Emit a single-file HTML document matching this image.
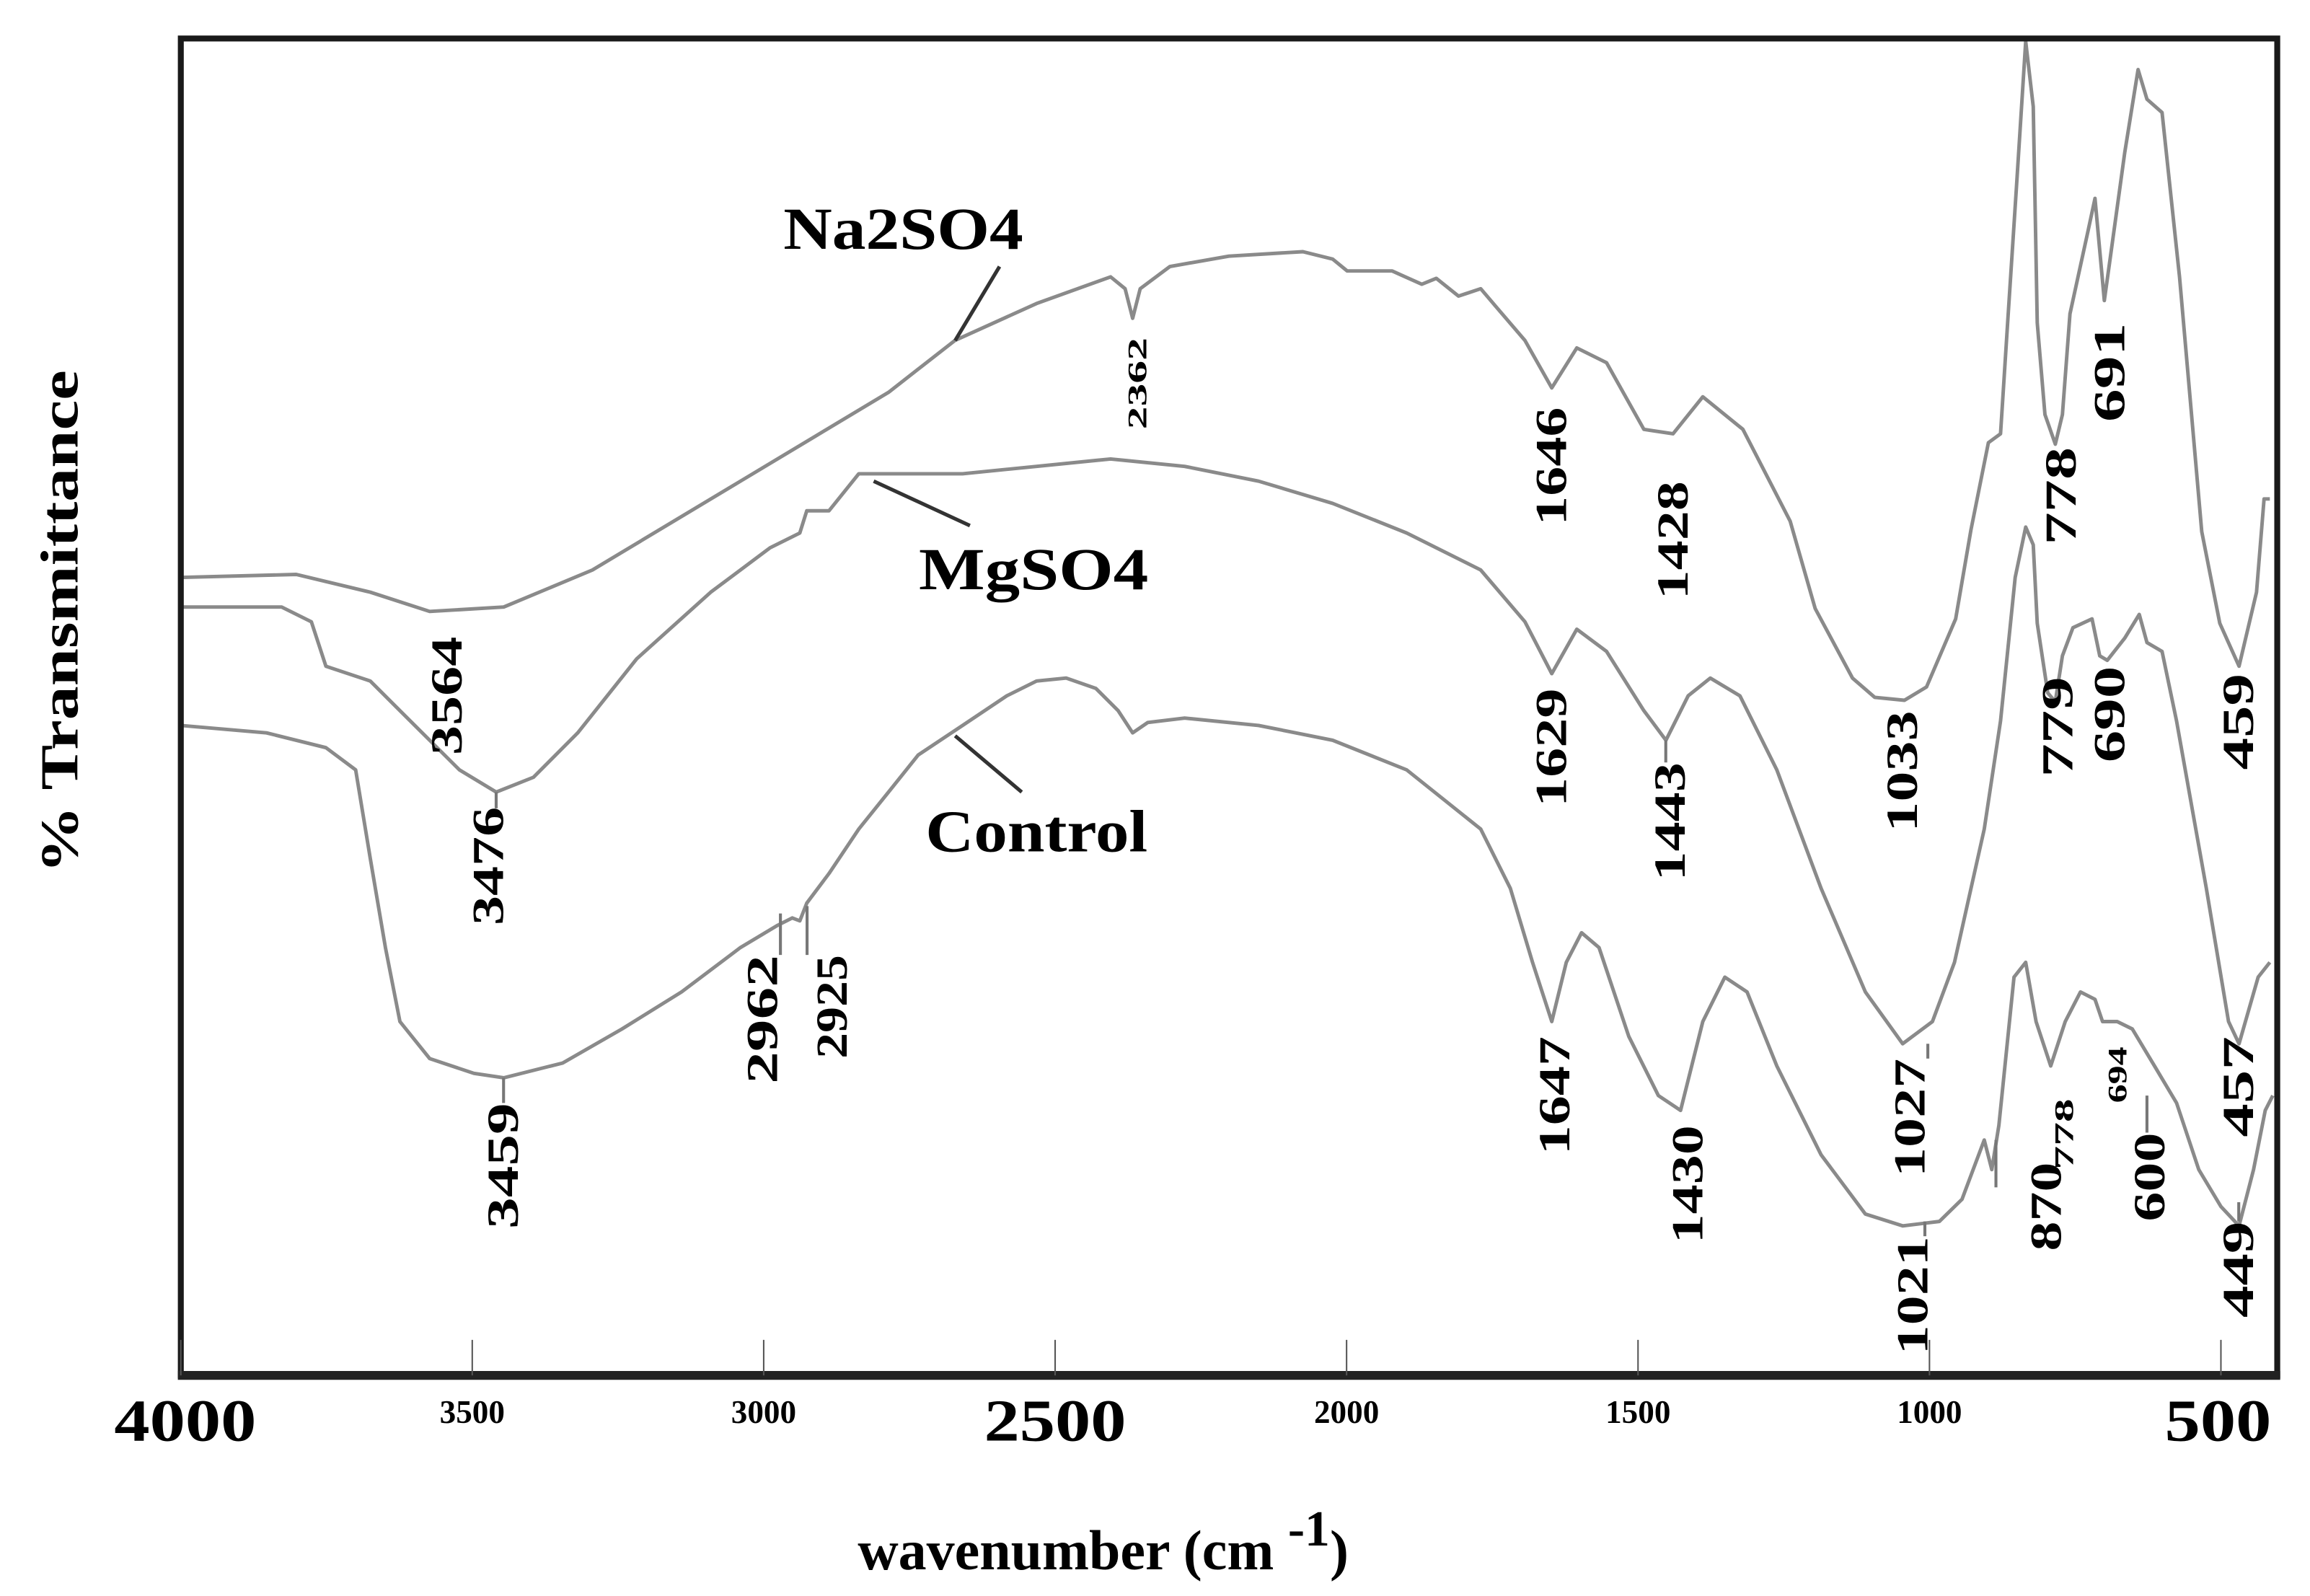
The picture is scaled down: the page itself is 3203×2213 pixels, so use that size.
<!DOCTYPE html>
<html><head><meta charset="utf-8"><style>
html,body{margin:0;padding:0;background:#fff;}
svg{display:block;}
text{font-family:"Liberation Serif",serif;font-weight:bold;fill:#000;}
</style></head><body>
<svg id="chart" xmlns="http://www.w3.org/2000/svg" width="3203" height="2213" viewBox="0 0 1560 1078">
<rect x="0" y="0" width="1560" height="1078" fill="#fff"/>
<g id="curves"></g>
<g id="ann"></g>
<rect x="122" y="26" width="1416" height="903" fill="none" stroke="#1a1a1a" stroke-width="4"/>
<line x1="120" y1="929" x2="1540" y2="929" stroke="#222" stroke-width="6"/>
<g id="ticks"></g>
<text x="40" y="420" font-size="36" text-anchor="middle" dominant-baseline="central" transform="rotate(-90 40 420)" textLength="340" lengthAdjust="spacingAndGlyphs">% Transmittance</text>
<text x="745" y="1060" font-size="38" text-anchor="middle">wavenumber (cm <tspan dy="-16" font-size="34">-1</tspan><tspan dy="16">)</tspan></text>
<text x="610" y="168" font-size="40" text-anchor="middle" textLength="162" lengthAdjust="spacingAndGlyphs">Na2SO4</text>
<text x="698" y="398" font-size="40" text-anchor="middle" textLength="155" lengthAdjust="spacingAndGlyphs">MgSO4</text>
<text x="700" y="575" font-size="40" text-anchor="middle" textLength="150" lengthAdjust="spacingAndGlyphs">Control</text>
<line x1="675" y1="180" x2="645" y2="230" stroke="#333" stroke-width="2.5"/>
<line x1="590" y1="325" x2="655" y2="355" stroke="#333" stroke-width="2.5"/>
<line x1="645" y1="497" x2="690" y2="535" stroke="#333" stroke-width="2.5"/>
</svg>
<script>
// Na2SO4 series
const naW=[4000,3802,3675,3573,3446,3294,3167,3040,2913,2786,2672,2532,2405,2380,2367,2354,2303,2202,2075,2024,1999,1922,1871,1846,1808,1770,1744,1694,1648,1605,1554,1490,1440,1389,1320,1239,1196,1132,1094,1043,1005,955,929,899,878,866,850,835,822,815,802,784,772,759,728,716,700,690,665,642,627,601,571,533,502,469,439,426,416];
const naT=[545,547,535,522,525,550,580,610,640,670,705,730,748,740,720,740,755,762,765,760,752,752,743,747,735,740,728,705,673,700,690,645,642,667,645,583,524,477,464,462,471,517,577,636,642,717,814,907,863,717,655,635,655,723,779,801,732,760,832,888,868,859,748,576,514,485,535,598,598];
// MgSO4 series
const mgW=[4000,3827,3776,3751,3713,3675,3624,3573,3522,3459,3395,3319,3218,3091,2989,2938,2926,2888,2837,2786,2659,2532,2405,2278,2151,2024,1897,1770,1694,1648,1605,1554,1490,1452,1414,1376,1325,1262,1186,1110,1046,995,957,906,878,853,835,822,815,797,784,772,754,721,708,695,665,640,627,601,576,525,487,469,436,416];
const mgT=[525,525,515,485,480,475,455,435,415,400,410,440,490,535,565,575,590,590,615,615,615,620,625,620,610,595,575,550,515,480,510,495,455,435,465,477,465,415,335,265,230,245,285,375,448,545,579,567,514,467,461,492,511,517,492,489,504,520,501,495,448,335,245,230,275,285];
// Control series
const ctW=[4000,3853,3751,3700,3675,3649,3624,3573,3497,3446,3345,3243,3141,3040,2976,2951,2938,2926,2888,2837,2786,2735,2659,2583,2532,2481,2430,2392,2367,2341,2278,2151,2024,1897,1770,1719,1681,1648,1623,1597,1567,1516,1465,1427,1389,1351,1313,1262,1186,1110,1046,983,944,906,893,881,855,835,817,792,767,741,716,703,678,652,614,576,538,500,469,444,424,411];
const ctT=[445,440,430,415,355,295,245,220,210,207,217,240,265,295,310,315,313,325,345,375,400,425,445,465,475,477,470,455,440,447,450,445,435,415,375,335,285,245,285,305,295,235,195,185,245,275,265,215,155,115,107,110,125,165,145,175,275,285,245,215,245,265,260,245,245,240,215,190,145,120,107,145,185,195];
// Axis ticks
const tickVals=[4000,3500,3000,2500,2000,1500,1000,500];
const tickLabels=["4000","3500","3000","2500","2000","1500","1000","500"];
const tickBig=[true,false,false,true,false,false,false,true];

const NS="http://www.w3.org/2000/svg";
function xs(w){return 122+(4000-w)/2.54;}
function ys(t){return 935-t;}
function mk(tag,attrs,parent){const e=document.createElementNS(NS,tag);for(const k in attrs)e.setAttribute(k,attrs[k]);parent.appendChild(e);return e;}

const cg=document.getElementById('curves');
function drawSeries(W,T,name){
  let d='';
  for(let i=0;i<W.length;i++){d+=(i?'L':'M')+xs(W[i]).toFixed(1)+','+ys(T[i]).toFixed(1);}
  const p=mk('path',{d:d,fill:'none',stroke:'#8a8a8a','stroke-width':2.4,'stroke-linejoin':'round'},cg);
  
  
}
drawSeries(naW,naT,'na2so4-spectrum');
drawSeries(mgW,mgT,'mgso4-spectrum');
drawSeries(ctW,ctT,'control-spectrum');

const tg=document.getElementById('ticks');
tickVals.forEach((v,i)=>{
  const x=xs(v);
  const l=mk('line',{x1:x,y1:905,x2:x,y2:929,stroke:'#555','stroke-width':1},tg);
  
  
  const big=tickBig[i];
  const t=mk('text',{x:Math.min(Math.max(x,125),1498),y:big?973:961,'font-size':big?40:22,'text-anchor':'middle',fill:big?'#000':'#555'},tg);
  if(big){t.setAttribute('textLength',tickLabels[i].length*24);t.setAttribute('lengthAdjust','spacingAndGlyphs');}
  t.textContent=tickLabels[i];
  
  
});

// peak annotations: [text, centerX, top, bottom, fontSize]
const ag=document.getElementById('ann');
const peaks=[["3564",302,430,510,30],["3476",330,545,625,30],["3459",340,745,830,30],["2962",515,645,732,30],["2925",562,645,715,30],["2362",768,228,290,18],["1646",1048,275,355,30],["1428",1130,325,405,30],["1629",1048,465,545,30],["1443",1128,515,595,30],["1647",1050,700,780,30],["1430",1140,760,840,30],["1033",1285,480,562,30],["1027",1290,715,795,30],["1021",1292,835,915,30],["778",1392,302,368,30],["691",1425,218,285,30],["779",1390,457,525,30],["690",1425,450,515,30],["459",1512,455,520,30],["870",1382,785,845,30],["778",1394,742,790,18],["694",1430,707,745,18],["600",1452,765,825,30],["457",1512,700,768,30],["449",1512,825,890,30]];
peaks.forEach(p=>{
  const cy=(p[2]+p[3])/2;
  const t=mk('text',{x:p[1],y:cy,'font-size':p[4],'text-anchor':'middle','dominant-baseline':'central',transform:'rotate(-90 '+p[1]+' '+cy+')',textLength:p[3]-p[2],lengthAdjust:'spacingAndGlyphs'},ag);
  t.textContent=p[0];
  
  
});
const leaders=[[335,535,546],[340,728,745],[527,617,645],[545,612,645],[1302,705,715],[1300,825,835],[1348,770,802],[1450,740,765],[1512,812,825],[1125,500,515]];
leaders.forEach(l=>{
  const e=mk('line',{x1:l[0],y1:l[1],x2:l[0],y2:l[2],stroke:'#777','stroke-width':2},ag);
  
  
});
</script>
</body></html>
